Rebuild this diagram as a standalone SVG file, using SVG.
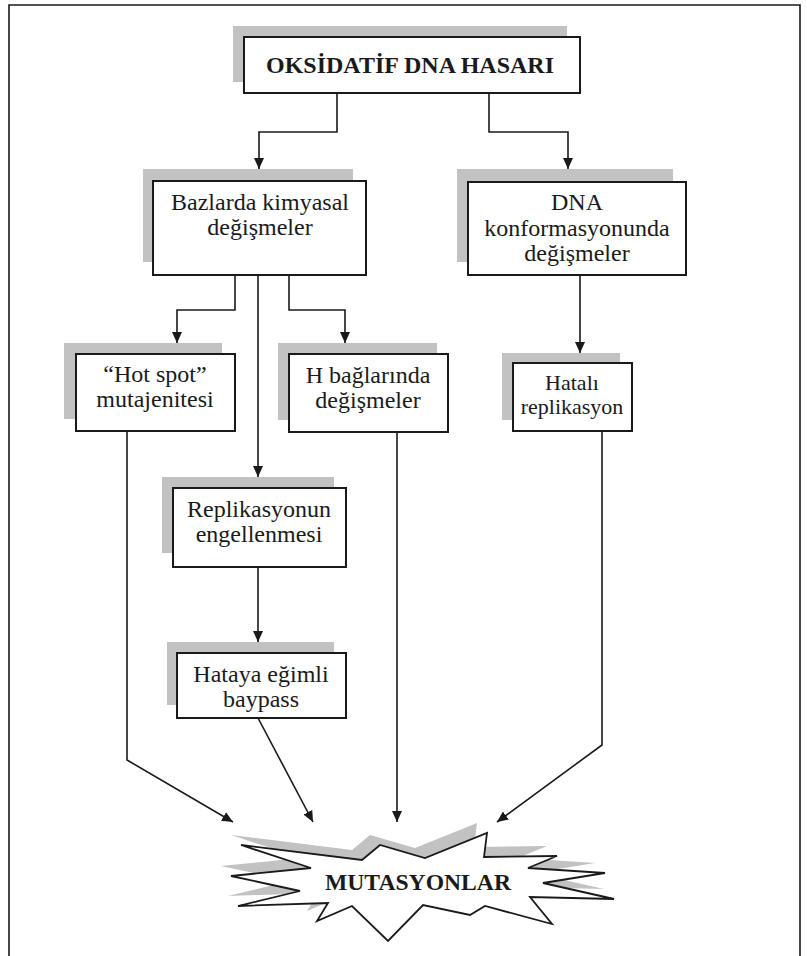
<svg xmlns="http://www.w3.org/2000/svg" width="807" height="956" viewBox="0 0 807 956">
  <style>
    .shadow { fill: #c2c2c2; }
    .box { fill: #ffffff; stroke: #1a1a1a; stroke-width: 2; }
    .lbl { font-family: "Liberation Serif", "Times New Roman", serif; font-size: 24px; fill: #1a1a1a; text-anchor: middle; }
    .small { font-size: 22px; }
    .bold { font-weight: bold; font-size: 23px; }
    .wire { fill: none; stroke: #1a1a1a; stroke-width: 1.6; marker-end: url(#arrow); }
    .plain { fill: none; stroke: #1a1a1a; stroke-width: 1.6; }
  </style>
  <defs>
    <marker id="arrow" markerUnits="userSpaceOnUse" markerWidth="12" markerHeight="10" refX="11" refY="5" orient="auto">
      <path d="M0,0 L11,5 L0,10 z" fill="#1a1a1a"/>
    </marker>
  </defs>

  <rect width="807" height="956" fill="#ffffff"/>
  <!-- page frame -->
  <path class="plain" d="M9,956 V5 H800 V956" stroke-width="2"/>

  <g id="node-oksidatif">
    <rect class="shadow" x="233" y="26" width="334" height="56"/>
    <rect class="box" x="244" y="37" width="336" height="56"/>
    <text class="lbl bold" x="410" y="73" textLength="288" lengthAdjust="spacingAndGlyphs">OKSİDATİF DNA HASARI</text>
  </g>

  <g id="node-bazlarda">
    <rect class="shadow" x="143" y="169" width="210" height="93"/>
    <rect class="box" x="153" y="181" width="213" height="94"/>
    <text class="lbl" x="260" y="210">Bazlarda kimyasal</text>
    <text class="lbl" x="260" y="235">değişmeler</text>
  </g>

  <g id="node-konformasyon">
    <rect class="shadow" x="457" y="169" width="216" height="93"/>
    <rect class="box" x="468" y="182" width="218" height="93"/>
    <text class="lbl" x="577" y="210">DNA</text>
    <text class="lbl" x="577" y="236">konformasyonunda</text>
    <text class="lbl" x="577" y="261">değişmeler</text>
  </g>

  <g id="node-hotspot">
    <rect class="shadow" x="64" y="343" width="158" height="76"/>
    <rect class="box" x="76" y="354" width="159" height="77"/>
    <text class="lbl" x="155" y="382">“Hot spot”</text>
    <text class="lbl" x="155" y="407">mutajenitesi</text>
  </g>

  <g id="node-hbaglari">
    <rect class="shadow" x="278" y="343" width="159" height="77"/>
    <rect class="box" x="289" y="354" width="159" height="78"/>
    <text class="lbl" x="368" y="383">H bağlarında</text>
    <text class="lbl" x="368" y="408">değişmeler</text>
  </g>

  <g id="node-hatali">
    <rect class="shadow" x="502" y="353" width="118" height="67"/>
    <rect class="box" x="513" y="363" width="119" height="68"/>
    <text class="lbl small" x="572" y="390">Hatalı</text>
    <text class="lbl small" x="572" y="414">replikasyon</text>
  </g>

  <g id="node-replikasyon">
    <rect class="shadow" x="162" y="477" width="172" height="76"/>
    <rect class="box" x="173" y="488" width="173" height="79"/>
    <text class="lbl" x="259" y="517">Replikasyonun</text>
    <text class="lbl" x="259" y="542">engellenmesi</text>
  </g>

  <g id="node-baypass">
    <rect class="shadow" x="167" y="642" width="167" height="63"/>
    <rect class="box" x="177" y="653" width="169" height="65"/>
    <text class="lbl" x="261" y="682">Hataya eğimli</text>
    <text class="lbl" x="261" y="707">baypass</text>
  </g>

  <g id="node-mutasyonlar">
    <polygon class="shadow" transform="translate(-10,-10)" points="241,845 362,860 380,845 425,858 487,833 484,857 557,856 528,868 605,873 543,883 614,899 530,897 552,924 485,906 470,915 423,905 388,941 352,906 317,921 328,903 238,906 300,891 231,876 311,868"/>
    <polygon fill="#ffffff" stroke="#1a1a1a" stroke-width="1.8" stroke-linejoin="miter" points="241,845 362,860 380,845 425,858 487,833 484,857 557,856 528,868 605,873 543,883 614,899 530,897 552,924 485,906 470,915 423,905 388,941 352,906 317,921 328,903 238,906 300,891 231,876 311,868"/>
    <text class="lbl bold" x="418" y="890" textLength="186" lengthAdjust="spacingAndGlyphs">MUTASYONLAR</text>
  </g>

  <g id="connectors">
    <path class="wire" d="M337,93 V132 H259 V169"/>
    <path class="wire" d="M489,93 V132 H568 V169"/>
    <path class="wire" d="M235,275 V310 H177 V343"/>
    <path class="wire" d="M289,275 V310 H345 V343"/>
    <path class="wire" d="M258,275 V477"/>
    <path class="wire" d="M580,275 V353"/>
    <path class="wire" d="M258,567 V642"/>
    <path class="wire" d="M127,431 V760 L233,822"/>
    <path class="wire" d="M258,718 L313,822"/>
    <path class="wire" d="M397,432 V822"/>
    <path class="wire" d="M602,431 V745 L497,822"/>
  </g>
</svg>
